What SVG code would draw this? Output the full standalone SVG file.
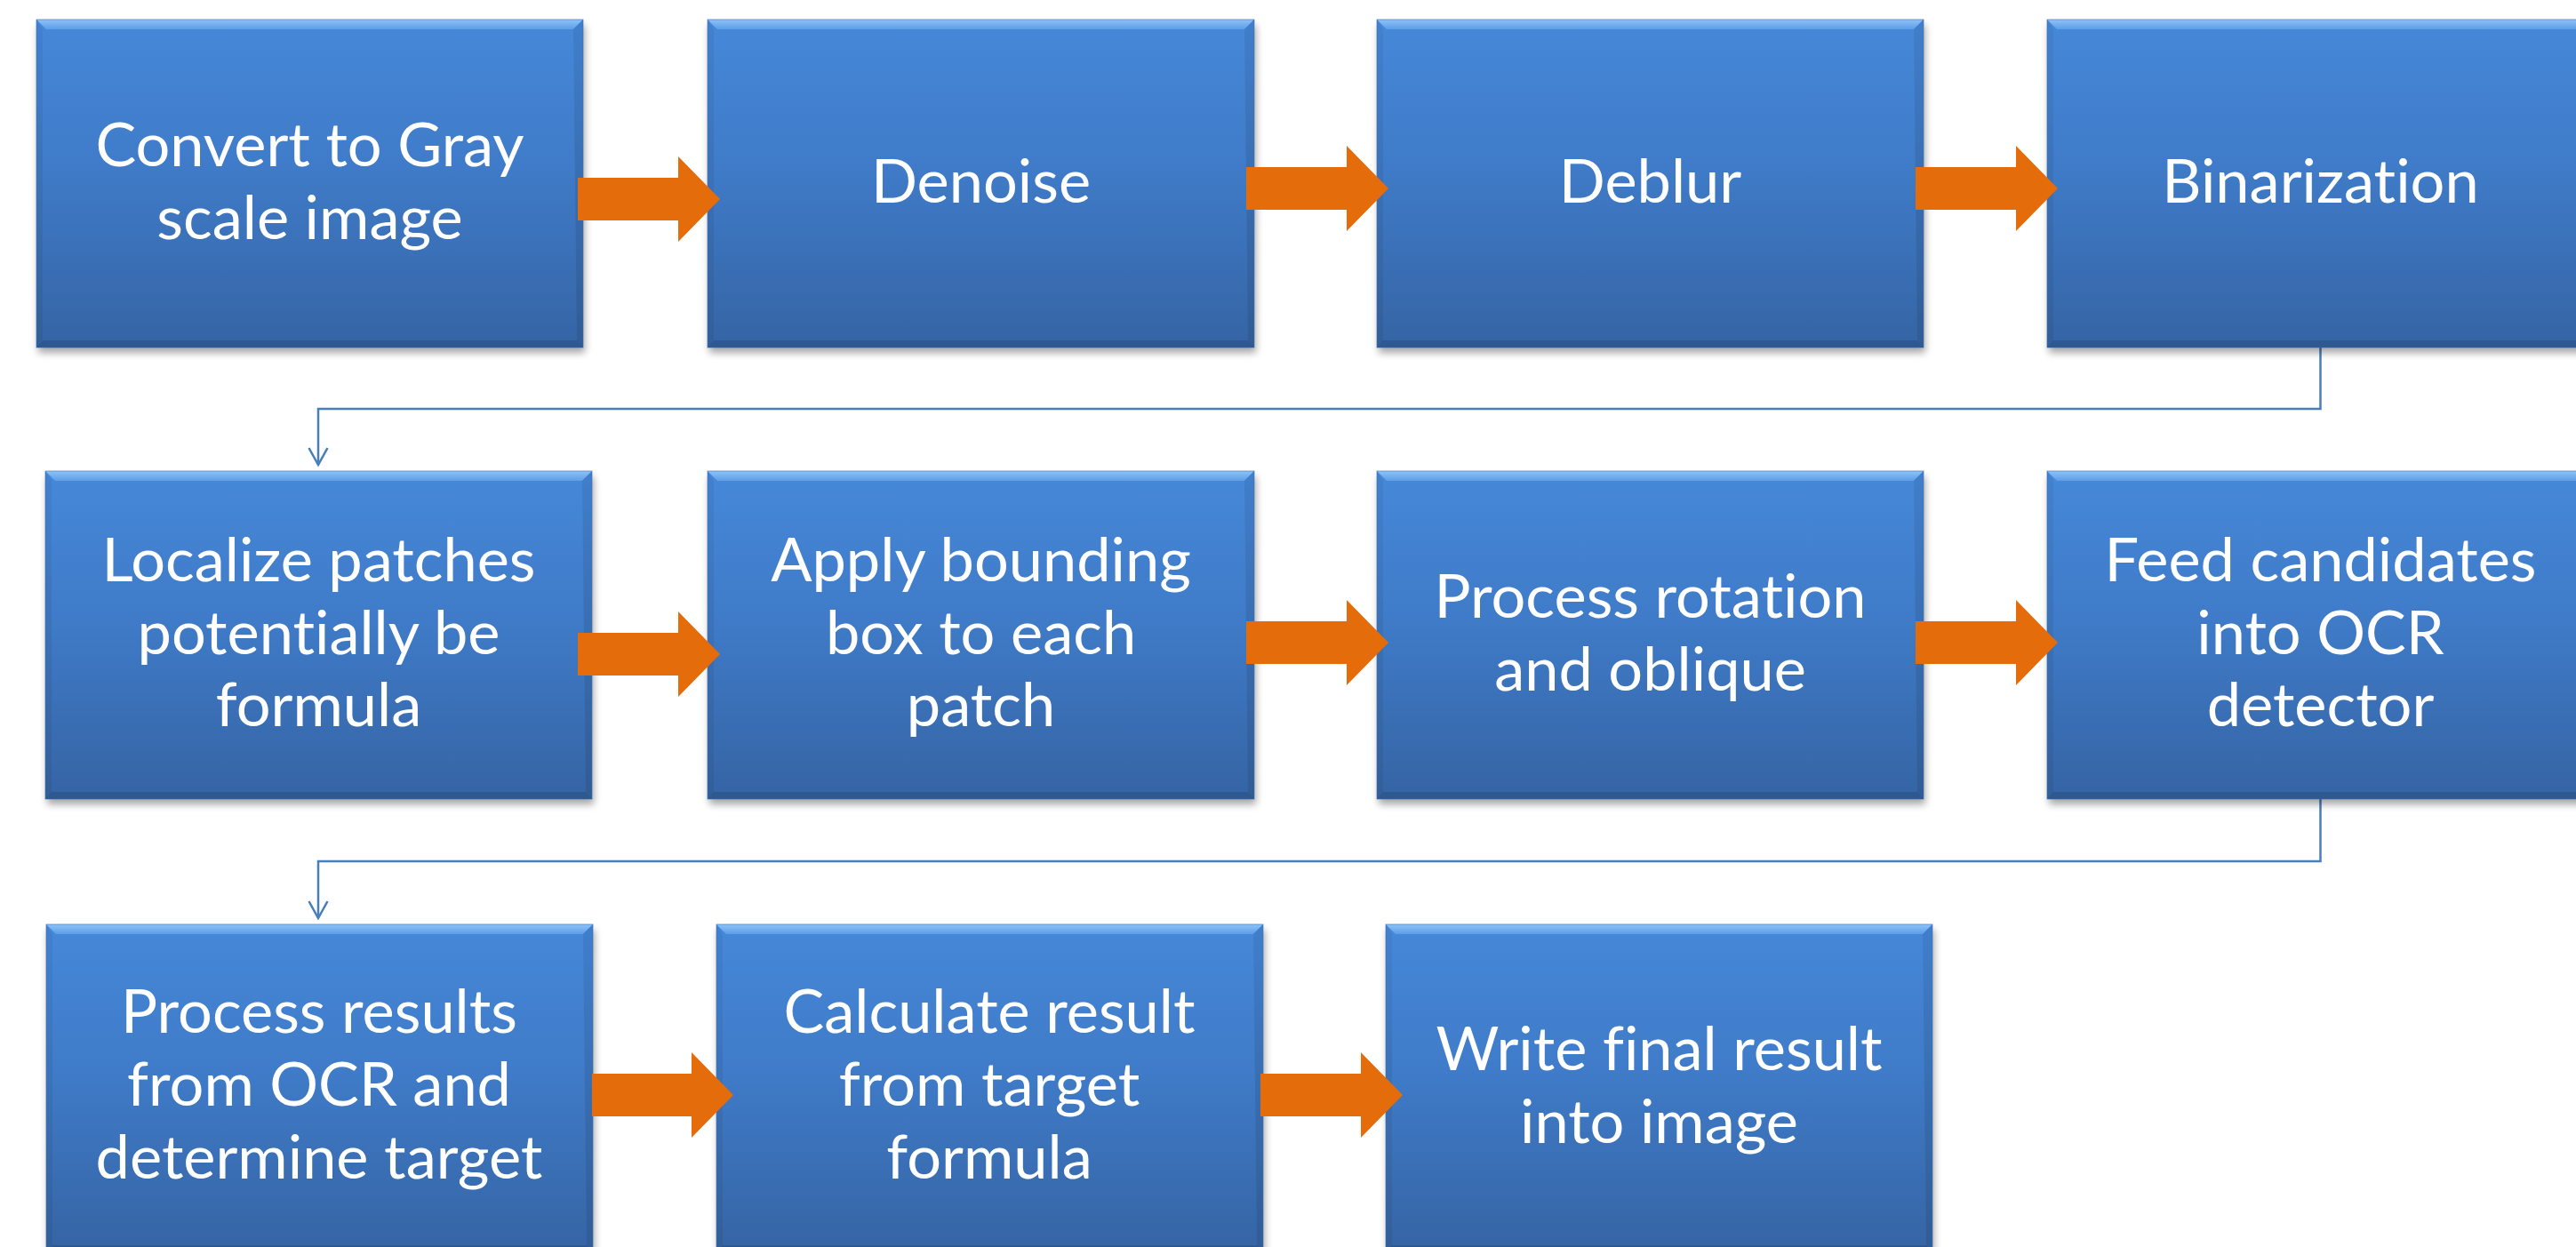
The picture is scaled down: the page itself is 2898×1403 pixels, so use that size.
<svg xmlns="http://www.w3.org/2000/svg" xmlns:xlink="http://www.w3.org/1999/xlink" width="2898" height="1403" viewBox="0 0 2898 1403">
<defs>
<style>
.lbl{font-family:Lato,"Open Sans","Liberation Sans",sans-serif;font-size:68.5px;fill:#ffffff;text-anchor:middle;font-variant-ligatures:none;font-feature-settings:"liga" 0,"clig" 0}
.blk{fill:#e46c0a}
.con{fill:none;stroke:#4a7ebb;stroke-width:2.5}
</style>
<linearGradient id="body" x1="0" y1="0" x2="0" y2="1">
<stop offset="0" stop-color="#4688d9"/>
<stop offset="0.45" stop-color="#3f7bc8"/>
<stop offset="1" stop-color="#3564a4"/>
</linearGradient>
<linearGradient id="topbev" x1="0" y1="0" x2="0" y2="1">
<stop offset="0" stop-color="#8cc4f9"/>
<stop offset="1" stop-color="#5d9de6"/>
</linearGradient>
<linearGradient id="sidebev" x1="0" y1="0" x2="0" y2="1">
<stop offset="0" stop-color="#3f7cc8"/>
<stop offset="1" stop-color="#30598f"/>
</linearGradient>
<filter id="shadow" x="-10%" y="-10%" width="120%" height="125%">
<feGaussianBlur stdDeviation="4"/>
</filter>
<marker id="open" markerUnits="userSpaceOnUse" markerWidth="26" markerHeight="26" viewBox="-2 -13 24 26" refX="19" refY="0" orient="auto">
<path d="M0,-10.5 L19,0 L0,10.5" fill="none" stroke="#4a7ebb" stroke-width="2.5"/>
</marker>
<g id="box">
<rect x="2" y="6" width="615" height="369" fill="#000" opacity="0.35" filter="url(#shadow)"/>
<rect x="0" y="0" width="615" height="369" fill="url(#body)"/>
<polygon points="0,0 615,0 604,11 11,11" fill="url(#topbev)"/>
<polygon points="0,0 7,11 7,361 0,369" fill="url(#sidebev)" opacity="0.55"/>
<polygon points="615,0 604,11 608,361 615,369" fill="url(#sidebev)" opacity="0.8"/>
<polygon points="0,369 7,361 608,361 615,369" fill="#2d5890"/>
<rect x="0" y="0" width="615" height="369" fill="none" stroke="#3a6db0" stroke-width="1" opacity="0.6"/>
</g>
</defs>
<rect width="2898" height="1403" fill="#ffffff"/>

<g id="connectors">
<path class="con" d="M2610.5,391 V460 H358 V523" marker-end="url(#open)"/>
<path class="con" d="M2610.5,899 V969 H358 V1033" marker-end="url(#open)"/>
</g>

<g id="n1"><use xlink:href="#box" x="41" y="22"/>
<text class="lbl" x="348.5" y="187">Convert to Gray</text>
<text class="lbl" x="348.5" y="268.5">scale image</text></g>
<g id="n2"><use xlink:href="#box" x="796" y="22"/>
<text class="lbl" x="1103.5" y="227.5">Denoise</text></g>
<g id="n3"><use xlink:href="#box" x="1549" y="22"/>
<text class="lbl" x="1856.5" y="227.5">Deblur</text></g>
<g id="n4"><use xlink:href="#box" x="2303" y="22"/>
<text class="lbl" x="2610.5" y="227.5">Binarization</text></g>

<g id="n5"><use xlink:href="#box" x="51" y="530"/>
<text class="lbl" x="358.5" y="654">Localize patches</text>
<text class="lbl" x="358.5" y="735.5">potentially be</text>
<text class="lbl" x="358.5" y="817">formula</text></g>
<g id="n6"><use xlink:href="#box" x="796" y="530"/>
<text class="lbl" x="1103.5" y="654">Apply bounding</text>
<text class="lbl" x="1103.5" y="735.5">box to each</text>
<text class="lbl" x="1103.5" y="817">patch</text></g>
<g id="n7"><use xlink:href="#box" x="1549" y="530"/>
<text class="lbl" x="1856.5" y="695">Process rotation</text>
<text class="lbl" x="1856.5" y="776.5">and oblique</text></g>
<g id="n8"><use xlink:href="#box" x="2303" y="530"/>
<text class="lbl" x="2610.5" y="654">Feed candidates</text>
<text class="lbl" x="2610.5" y="735.5">into OCR</text>
<text class="lbl" x="2610.5" y="817">detector</text></g>

<g id="n9"><use xlink:href="#box" x="52" y="1040"/>
<text class="lbl" x="359" y="1162">Process results</text>
<text class="lbl" x="359" y="1244">from OCR and</text>
<text class="lbl" x="359" y="1326">determine target</text></g>
<g id="n10"><use xlink:href="#box" x="806" y="1040"/>
<text class="lbl" x="1113" y="1162">Calculate result</text>
<text class="lbl" x="1113" y="1244">from target</text>
<text class="lbl" x="1113" y="1326">formula</text></g>
<g id="n11"><use xlink:href="#box" x="1559" y="1040"/>
<text class="lbl" x="1866.5" y="1204">Write final result</text>
<text class="lbl" x="1866.5" y="1286">into image</text></g>

<g id="block-arrows">
<polygon class="blk" points="650,200 763,200 763,176 810,224 763,272 763,248 650,248"/>
<polygon class="blk" points="1402,188 1515,188 1515,164 1562,212 1515,260 1515,236 1402,236"/>
<polygon class="blk" points="2155,188 2268,188 2268,164 2315,212 2268,260 2268,236 2155,236"/>
<polygon class="blk" points="650,712 763,712 763,688 810,736 763,784 763,760 650,760"/>
<polygon class="blk" points="1402,699 1515,699 1515,675 1562,723 1515,771 1515,747 1402,747"/>
<polygon class="blk" points="2155,699 2268,699 2268,675 2315,723 2268,771 2268,747 2155,747"/>
<polygon class="blk" points="666,1208 778,1208 778,1184 825,1232 778,1280 778,1256 666,1256"/>
<polygon class="blk" points="1418,1208 1531,1208 1531,1184 1578,1232 1531,1280 1531,1256 1418,1256"/>
</g>
</svg>
